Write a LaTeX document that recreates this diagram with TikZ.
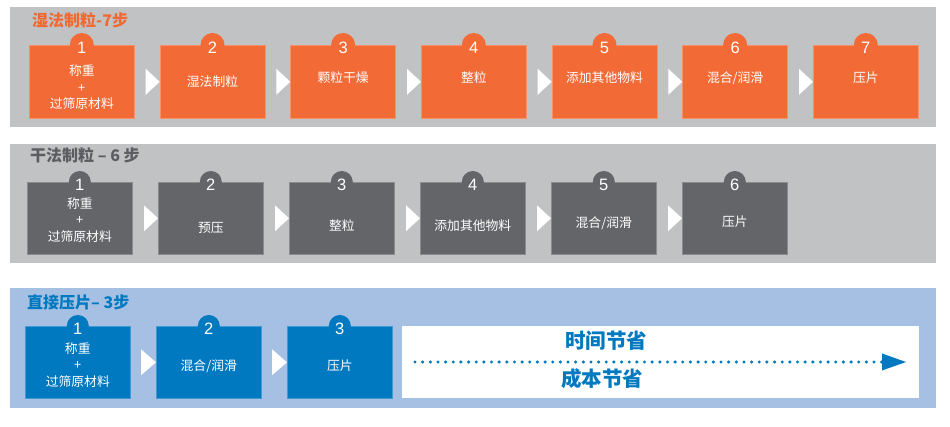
\documentclass[tikz,border=0pt]{standalone}
\usepackage{fontspec}
\setmainfont{Liberation Sans}
\newfontfamily\cjk{Noto Sans CJK SC}
\usetikzlibrary{calc}
\definecolor{orng}{HTML}{F26B36}
\definecolor{orngttl}{HTML}{EF6A33}
\definecolor{grybg}{HTML}{C1C2C4}
\definecolor{dgry}{HTML}{646569}
\definecolor{gryttl}{HTML}{5C5D60}
\definecolor{bluebg}{HTML}{A5C0E3}
\definecolor{blu}{HTML}{0079C1}
\tikzset{
  panel/.style={fill=#1, draw=none, anchor=north west, inner sep=0pt,
    minimum width=926pt, minimum height=120pt},
  stepbox/.style={fill=#1, draw=white!25!#1, line width=0.6pt, anchor=north west,
    inner sep=0pt, minimum width=105pt, minimum height=73pt},
  numtxt/.style={text=white, font=\fontsize{16.5}{16.5}\selectfont, inner sep=0pt},
  steptxt/.style={text=white, align=center, inner sep=0pt,
    font=\cjk\fontsize{12.8}{16.5}\selectfont},
  ttl/.style={anchor=west, inner sep=0pt, text=#1,
    font=\cjk\bfseries\fontsize{16}{16}\selectfont},
}
% name, x, y, colour, number, text, text offset, circle radius, height
\newcommand\mkstep[9]{%
  \node[stepbox=#4, minimum height=#9] (#1) at (#2,#3) {};
  \fill[#4] (#1.north) circle (#8);
  \node[numtxt] (#1n) at ($(#1.north)+(0,3)$) {#5};
  \node[steptxt] (#1t) at ($(#1.north)+(0,#7)$) {#6};
}
\newcommand\mktri[3]{% previous box, next box, width
  \fill[white] ($(#2.west)+(-#3,-13)$) -- (#2.west) -- ($(#2.west)+(-#3,13)$) -- cycle;
}
\begin{document}
\begin{tikzpicture}[x=1pt,y=-1pt]
\useasboundingbox (0,0) rectangle (950,427);
\fill[white] (0,0) rectangle (950,427);

% ---------- Panel 1 ----------
\node[panel=grybg] (p1) at (10,7) {};
\node[ttl=orngttl] (t1) at (32,20) {湿法制粒-7步};
\mkstep{a1}{29}{45}{orng}{1}{称重\\+\\过筛原材料}{42.5}{12pt}{73pt}
\mkstep{a2}{159.7}{45}{orng}{2}{湿法制粒}{37}{12pt}{73pt}
\mkstep{a3}{290.3}{45}{orng}{3}{颗粒干燥}{33}{12pt}{73pt}
\mkstep{a4}{421}{45}{orng}{4}{整粒}{33}{12pt}{73pt}
\mkstep{a5}{551.7}{45}{orng}{5}{添加其他物料}{33}{12pt}{73pt}
\mkstep{a6}{682.3}{45}{orng}{6}{混合/润滑}{33}{12pt}{73pt}
\mkstep{a7}{813}{45}{orng}{7}{压片}{33}{12pt}{73pt}
\mktri{a1}{a2}{14}
\mktri{a2}{a3}{14}
\mktri{a3}{a4}{14}
\mktri{a4}{a5}{14}
\mktri{a5}{a6}{14}
\mktri{a6}{a7}{14}

% ---------- Panel 2 ----------
\node[panel=grybg, minimum height=119pt] (p2) at (10,144) {};
\node[ttl=gryttl] (t2) at (30,155) {干法制粒 – 6 步};
\mkstep{b1}{27}{182}{dgry}{1}{称重\\+\\过筛原材料}{38}{11pt}{72pt}
\mkstep{b2}{158}{182}{dgry}{2}{预压}{46}{11pt}{72pt}
\mkstep{b3}{289}{182}{dgry}{3}{整粒}{44}{11pt}{72pt}
\mkstep{b4}{420}{182}{dgry}{4}{添加其他物料}{44}{11pt}{72pt}
\mkstep{b5}{551}{182}{dgry}{5}{混合/润滑}{41}{11pt}{72pt}
\mkstep{b6}{682}{182}{dgry}{6}{压片}{40}{11pt}{72pt}
\mktri{b1}{b2}{14}
\mktri{b2}{b3}{14}
\mktri{b3}{b4}{14}
\mktri{b4}{b5}{14}
\mktri{b5}{b6}{14}

% ---------- Panel 3 ----------
\node[panel=bluebg] (p3) at (10,288) {};
\node[ttl=blu] (t3) at (27,302) {直接压片– 3步};
\mkstep{c1}{25}{326}{blu}{1}{称重\\+\\过筛原材料}{39}{11pt}{72pt}
\mkstep{c2}{156}{326}{blu}{2}{混合/润滑}{40}{11pt}{72pt}
\mkstep{c3}{287}{326}{blu}{3}{压片}{40}{11pt}{72pt}
\mktri{c1}{c2}{15}
\mktri{c2}{c3}{15}

\node[fill=white, anchor=north west, inner sep=0pt, minimum width=517pt,
      minimum height=72pt] (sv) at (402,326) {};
\node[text=blu, inner sep=0pt, font=\cjk\bfseries\fontsize{20.5}{20.5}\selectfont]
  (svt) at (606,341) {时间节省};
\node[text=blu, inner sep=0pt, font=\cjk\bfseries\fontsize{20.5}{20.5}\selectfont]
  (svc) at (602,379) {成本节省};
\coordinate (ds) at (415,362);
\coordinate (de) at (882,362);
\coordinate (dt) at (906,362);
\draw[blu, line width=3.4pt, line cap=round, dash pattern=on 0pt off 7.65pt] (ds) -- (de);
\fill[blu] ($(de)+(0,-8.5)$) -- (dt) -- ($(de)+(0,8.5)$) -- cycle;
\end{tikzpicture}
\end{document}
